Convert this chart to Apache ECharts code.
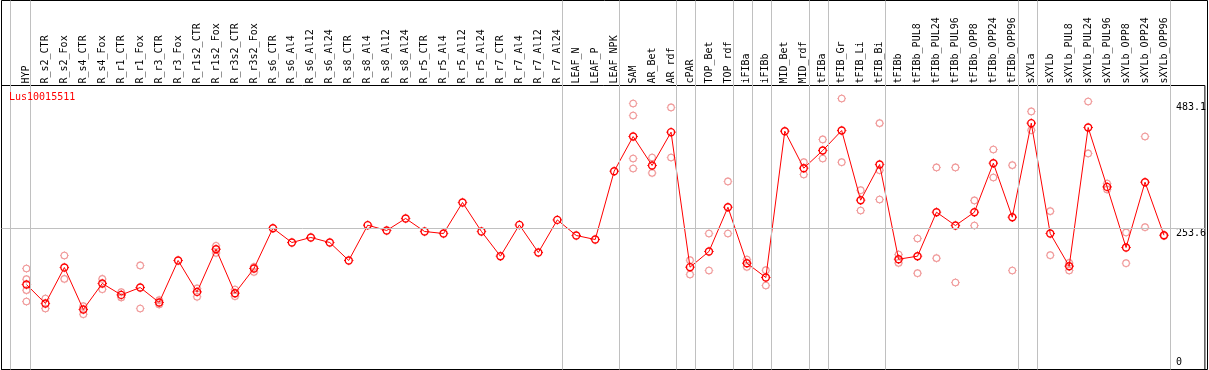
<!DOCTYPE html>
<html>
<head>
<meta charset="utf-8">
<script src="https://cdn.jsdelivr.net/npm/echarts@6/dist/echarts.min.js"></script>
<style>
  html, body { margin: 0; padding: 0; background: #fff; }
  #chart { width: 1209px; height: 370px; }
</style>
</head>
<body>
<div id="chart"></div>
<script>
const categories = ['HYP','R_s2_CTR','R_s2_Fox','R_s4_CTR','R_s4_Fox','R_r1_CTR','R_r1_Fox','R_r3_CTR','R_r3_Fox',
  'R_r1s2_CTR','R_r1s2_Fox','R_r3s2_CTR','R_r3s2_Fox','R_s6_CTR','R_s6_Al4','R_s6_Al12','R_s6_Al24',
  'R_s8_CTR','R_s8_Al4','R_s8_Al12','R_s8_Al24','R_r5_CTR','R_r5_Al4','R_r5_Al12','R_r5_Al24',
  'R_r7_CTR','R_r7_Al4','R_r7_Al12','R_r7_Al24','LEAF_N','LEAF_P','LEAF_NPK','SAM','AR_Bet','AR_rdf',
  'cPAR','TOP_Bet','TOP_rdf','iFIBa','iFIBb','MID_Bet','MID_rdf','tFIBa','tFIB_Gr','tFIB_Li','tFIB_Bi',
  'tFIBb','tFIBb_PUL8','tFIBb_PUL24','tFIBb_PUL96','tFIBb_OPP8','tFIBb_OPP24','tFIBb_OPP96',
  'sXYLa','sXYLb','sXYLb_PUL8','sXYLb_PUL24','sXYLb_PUL96','sXYLb_OPP8','sXYLb_OPP24','sXYLb_OPP96'];

const means = [151.5,116.9,182.5,106.0,153.4,132.6,146.1,118.8,195.3,
  138.1,215.8,135.7,180.7,254.1,228.0,237.2,228.0,
  195.3,259.6,249.9,271.8,248.1,244.4,300.9,248.1,
  203.1,260.1,209.8,269.2,240.8,233.5,357.9,421.1,368.3,429.0,
  183.1,211.7,292.3,190.3,164.3,430.8,363.4,395.6,432.0,305.1,370.1,
  197.6,203.1,283.2,259.0,283.2,372.5,274.1,
  445.4,244.4,184.9,437.5,329.3,218.9,337.9,241.3];

const replicates = [
  [180.7,161.2,141.2,120.6],[126.0,107.8],[204.4,161.7],[112.0,97.4],[161.7,143.0],[137.5,128.0],[186.2,107.8],[123.0,115.1],[],
  [144.3,129.0],[221.9,209.1],[142.4,130.2],[183.6,174.5],[],[],[],[],
  [],[],[],[],[],[],[],[],
  [],[],[],[],[],[],[],[481.2,459.4,381.0,362.8],[382.9,354.8],[474.0,382.9],
  [195.8,169.8],[244.4,177.0],[339.2,244.4],[197.1,183.6],[177.6,149.7],[],[374.3,351.9],[415.7,381.0],[490.3,374.3],[323.3,286.3],[445.4,359.7,306.4],
  [206.2,190.9],[235.3,172.1],[364.7,199.5],[364.7,155.2],[304.6,259.0],[397.4,346.4],[368.9,177.0],
  [466.7,432.6],[285.1,204.9],[190.9,177.0],[484.9,390.2],[335.5,324.6],[246.3,190.3],[421.1,255.9],[240.0]
];

// index of the last category of each group (separator drawn right after it)
const groupEnds = [-1, 0, 28, 31, 34, 35, 37, 38, 39, 41, 42, 45, 52, 53, 60];
const yTickLabels = [253.6, 483.1];
const yZeroLabel = [0];
const gridValue = 253.6;
const title = 'Lus10015511';

const X_MIN = -1.3158, X_MAX = 62.158;
const Y_MIN = -3.28, Y_MAX = 514.0;
const MONO = 'DejaVu Sans Mono';
// four short ticks around each ring
const tickPath = 'path://M0,-5L0,-4M0,4L0,5M-5,0L-4,0M4,0L5,0';

const meanData = means.map((v, i) => [i, v]);
const repData = [];
replicates.forEach((arr, i) => arr.forEach(v => repData.push([i, v])));

const chart = echarts.init(document.getElementById('chart'), null, { renderer: 'canvas' });
chart.setOption({
  animation: false,
  backgroundColor: '#fff',
  title: {
    text: title, left: 9, top: 92, padding: 0,
    textStyle: { color: '#ff0000', fontSize: 10, fontFamily: MONO, fontWeight: 'normal' }
  },
  grid: [
    { left: 1.5, right: 1.5, top: 85.5, bottom: 0.5, show: true, borderColor: '#000', borderWidth: 1, backgroundColor: 'transparent' },
    { left: 1.5, right: 1.5, top: 0.5, bottom: 0.5, show: true, borderColor: '#000', borderWidth: 1, backgroundColor: 'transparent' }
  ],
  xAxis: [
    {
      type: 'value', gridIndex: 0, position: 'top', min: X_MIN, max: X_MAX,
      axisLine: { show: false }, axisTick: { show: false }, splitLine: { show: false },
      axisLabel: {
        customValues: categories.map((c, i) => i),
        formatter: v => categories[Math.round(v)],
        rotate: 90, margin: 2, color: '#000', fontSize: 10, fontFamily: MONO
      }
    },
    { type: 'value', gridIndex: 1, min: X_MIN, max: X_MAX, show: false, splitLine: { show: false } }
  ],
  yAxis: [
    {
      type: 'value', gridIndex: 0, position: 'right', offset: -37, min: Y_MIN, max: Y_MAX,
      axisLine: { show: false }, axisTick: { show: false }, splitLine: { show: false },
      axisLabel: {
        customValues: yTickLabels, formatter: v => v.toFixed(1),
        margin: 8, color: '#000', fontSize: 10, fontFamily: MONO, verticalAlign: 'top'
      }
    },
    { type: 'value', gridIndex: 1, min: 0, max: 1, show: false, splitLine: { show: false } },
    {
      type: 'value', gridIndex: 0, position: 'right', offset: -37, min: Y_MIN, max: Y_MAX,
      axisLine: { show: false }, axisTick: { show: false }, splitLine: { show: false },
      axisLabel: {
        customValues: yZeroLabel, formatter: v => String(v),
        margin: 8, color: '#000', fontSize: 10, fontFamily: MONO, verticalAlign: 'bottom'
      }
    }
  ],
  series: [
    {
      type: 'line', xAxisIndex: 1, yAxisIndex: 1, data: [], z: 1, silent: true,
      markLine: {
        silent: true, symbol: 'none', animation: false,
        label: { show: false },
        lineStyle: { color: '#c0c0c0', width: 1, type: 'solid' },
        data: groupEnds.map(g => ({ xAxis: g === -1 ? -0.84 : g + 0.21 }))
      }
    },
    {
      type: 'line', xAxisIndex: 0, yAxisIndex: 0, data: [], z: 1, silent: true,
      markLine: {
        silent: true, symbol: 'none', animation: false,
        label: { show: false },
        lineStyle: { color: '#c0c0c0', width: 1, type: 'solid' },
        data: [{ yAxis: gridValue }]
      }
    },
    {
      name: 'replicates', type: 'scatter', xAxisIndex: 0, yAxisIndex: 0, z: 3, silent: true,
      data: repData, symbol: 'circle', symbolSize: 6.6,
      itemStyle: { color: 'rgba(0,0,0,0)', borderColor: '#f09a9a', borderWidth: 1.1, opacity: 1 }
    },
    {
      name: 'replicate ticks', type: 'scatter', xAxisIndex: 0, yAxisIndex: 0, z: 3, silent: true,
      data: repData, symbol: tickPath, symbolSize: 8.6,
      itemStyle: { color: 'rgba(0,0,0,0)', borderColor: '#f09a9a', borderWidth: 1, opacity: 1 }
    },
    {
      name: 'mean', type: 'line', xAxisIndex: 0, yAxisIndex: 0, z: 4, silent: true,
      data: meanData, symbol: 'circle', symbolSize: 7, showAllSymbol: true,
      lineStyle: { color: '#ff0000', width: 1 },
      itemStyle: { color: 'rgba(0,0,0,0)', borderColor: '#ff0000', borderWidth: 1.4 }
    },
    {
      name: 'mean ticks', type: 'scatter', xAxisIndex: 0, yAxisIndex: 0, z: 4, silent: true,
      data: meanData, symbol: tickPath, symbolSize: 9.4,
      itemStyle: { color: 'rgba(0,0,0,0)', borderColor: '#ff0000', borderWidth: 1, opacity: 1 }
    }
  ]
});
</script>
</body>
</html>
